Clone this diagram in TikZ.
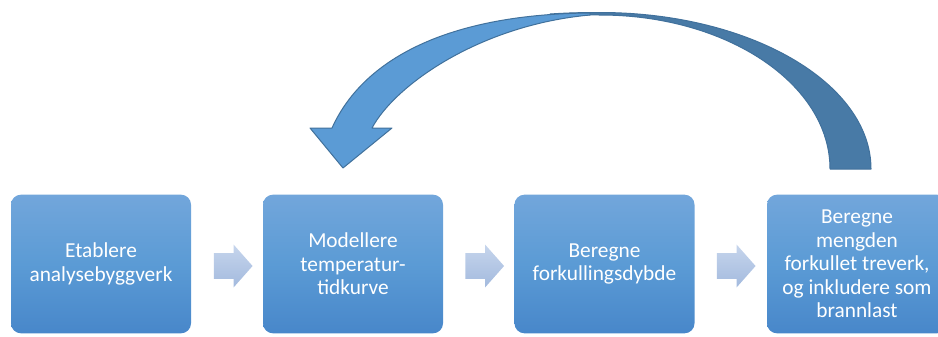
\documentclass[tikz,border=0pt]{standalone}
\usepackage{fontspec}
\setmainfont{Carlito}
\usetikzlibrary{shapes.arrows}

\definecolor{boxtop}{RGB}{114,166,219}
\definecolor{boxmid}{RGB}{91,155,213}
\definecolor{boxbot}{RGB}{72,135,202}
\definecolor{loopfront}{RGB}{91,155,213}
\definecolor{loopback}{RGB}{72,122,166}
\definecolor{loopline}{RGB}{65,113,156}
\definecolor{flowtop}{RGB}{198,213,236}
\definecolor{flowbot}{RGB}{163,186,222}

\tikzset{
	procbox/.style={rounded corners=7.5pt, minimum width=135pt, minimum height=104pt, inner sep=0pt,
		top color=boxtop, bottom color=boxbot, middle color=boxmid, text=white, align=center,
		font=\fontsize{16}{17.6}\selectfont},
	flowarrow/.style={single arrow, single arrow head extend=6.4pt, single arrow tip angle=97,
		minimum height=29pt, text height=19pt, text depth=0pt, text width=0pt, inner sep=0pt,
		top color=flowtop, bottom color=flowbot},
	loopshape/.style={draw=loopline, line width=0.75pt, line join=round},
}

\begin{document}
\begin{tikzpicture}[x=0.75pt,y=0.75pt,yscale=-1,xscale=1]
	\useasboundingbox (0,0) rectangle (938,336);
	% process steps
	\draw (101,264) node [procbox] (etablere) {Etablere\\analysebyggverk};
	\draw (353,264) node [procbox] (modellere) {Modellere\\temperatur-\\tidkurve};
	\draw (604.5,264) node [procbox] (forkulling) {Beregne\\forkullingsdybde};
	\draw (857,264) node [procbox] (brannlast) {Beregne\\mengden\\forkullet treverk,\\og inkludere som\\brannlast};
	% arrows between steps
	\draw (227.5,266) node [flowarrow] (pil1) {};
	\draw (479,266) node [flowarrow] (pil2) {};
	\draw (730.5,266) node [flowarrow] (pil3) {};
	% loop back, back half
	\draw [loopshape, fill=loopback] (830,169) -- (871,169) .. controls (871,83) and (750,12.5) .. (600,12.5) .. controls (580,12.5) and (565,13) .. (550,14) .. controls (565,14.5) and (580,15) .. (600,15) .. controls (727,15) and (830,84) .. (830,169) -- cycle;
	% loop back, front half with head
	\draw [loopshape, fill=loopfront] (590,13) .. controls (455,14) and (365,55) .. (332,128) -- (310,128) -- (343,168) -- (392,128) -- (372,128) .. controls (395,85) and (480,25) .. (590,15) -- cycle;
\end{tikzpicture}
\end{document}
